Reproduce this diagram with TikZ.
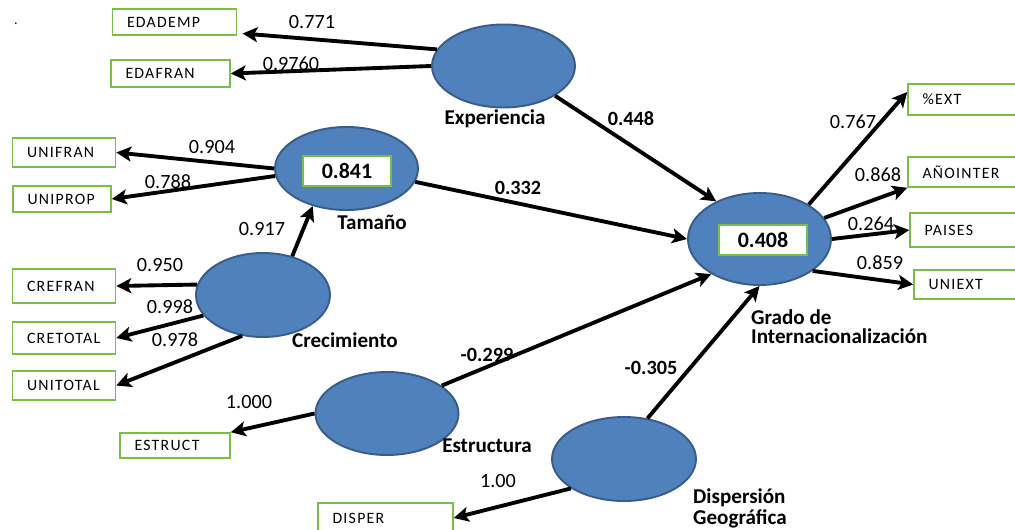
\documentclass[tikz,border=0pt]{standalone}
\usepackage{fontspec}
\setmainfont{Carlito}
\newfontfamily\indfam[LetterSpace=8]{Carlito}
\usetikzlibrary{arrows.meta,shapes.geometric}
\definecolor{latfill}{RGB}{79,129,189}
\definecolor{latline}{RGB}{56,93,138}
\definecolor{indline}{RGB}{122,190,72}
\newcommand{\wtfont}{\fontsize{11.5}{13}\selectfont}
\newcommand{\indfont}{\indfam\fontsize{9}{10}\selectfont}

\begin{document}
\begin{tikzpicture}[x=0.02cm,y=-0.02cm,
      latent/.style={ellipse,draw=latline,line width=1.1pt,fill=latfill,minimum width=2.86cm,minimum height=1.66cm,inner sep=0pt},
      ind/.style={draw=indline,line width=0.9pt,fill=white,font=\indfont,inner xsep=0.29cm,inner ysep=0pt,align=left},
      rsq/.style={draw=indline,line width=1pt,fill=white,font=\fontsize{12.5}{14}\selectfont\bfseries,minimum width=1.76cm,minimum height=0.6cm},
      arr/.style={line width=2.2pt,-{Stealth[length=8.5pt,width=8.5pt,inset=2pt]}},
      wt/.style={font=\wtfont},
      pc/.style={font=\wtfont\bfseries},
      lname/.style={font=\fontsize{12}{11}\selectfont\bfseries,align=left}]
    \clip (0,0) rectangle (1015,530);
    \node[font=\fontsize{8}{8}\selectfont] (dot) at (16,24) {.};
    % latent variables
    \node[latent] (exp) at (503.5,66) {};
    \node[latent] (tam) at (346.5,168.5) {};
    \node[latent,minimum width=2.68cm,minimum height=1.68cm] (crec) at (263,295) {};
    \node[latent] (estr) at (387,413.5) {};
    \node[latent,minimum width=2.88cm,minimum height=1.68cm] (disp) at (624,459) {};
    \node[latent,minimum height=1.84cm] (grado) at (759.5,239) {};
    \node[rsq] (r2tam) at (347,171) {0.841};
    \node[rsq] (r2grado) at (763,240) {0.408};
    \node[lname] (nexp) at (495,119) {Experiencia};
    \node[lname] (ntam) at (372,222) {Tamaño};
    \node[lname] (ncrec) at (345,340) {Crecimiento};
    \node[lname] (nestr) at (487,446) {Estructura};
    \node[lname,font=\fontsize{12}{12}\selectfont\bfseries,anchor=west] (ndisp) at (687,508) {Dispersión\\Geográfica};
    \node[lname,font=\fontsize{12}{10.8}\selectfont\bfseries,anchor=west] (ngrado) at (745,326.5) {Grado de\\Internacionalización};
    % indicators
    \node[ind,text width=1.90cm,minimum height=0.52cm] (edademp) at (174.5,22) {EDADEMP};
    \node[ind,text width=1.80cm,minimum height=0.54cm] (edafran) at (170.5,73.5) {EDAFRAN};
    \node[ind,text width=1.48cm,minimum height=0.58cm] (unifran) at (64,152.5) {UNIFRAN};
    \node[ind,text width=1.38cm,minimum height=0.52cm] (uniprop) at (62,199) {UNIPROP};
    \node[ind,text width=1.48cm,minimum height=0.68cm] (crefran) at (64,286) {CREFRAN};
    \node[ind,text width=1.48cm,minimum height=0.64cm] (cretotal) at (64,338) {CRETOTAL};
    \node[ind,text width=1.48cm,minimum height=0.58cm] (unitotal) at (64,385.5) {UNITOTAL};
    \node[ind,text width=1.62cm,minimum height=0.50cm] (estruct) at (175,445.5) {ESTRUCT};
    \node[ind,text width=2.12cm,minimum height=0.60cm] (disper) at (385.5,518) {DISPER};
    \node[ind,text width=1.82cm,minimum height=0.62cm] (pext) at (968,99.5) {\%EXT};
    \node[ind,text width=1.82cm,minimum height=0.60cm] (anoint) at (968,172) {AÑOINTER};
    \node[ind,text width=1.82cm,minimum height=0.68cm] (paises) at (970,230) {PAISES};
    \node[ind,text width=1.82cm,minimum height=0.58cm] (uniext) at (974,284.5) {UNIEXT};
    % loadings
    \draw[arr,shorten >=3pt] (exp.166) -- (edademp.-10) node[wt] at (312,22) {0.771};
    \draw[arr] (exp.180) -- (edafran.east) node[wt] at (291,64) {0.9760};
    \draw[arr] (tam.180) -- (unifran.east) node[wt] at (212,147) {0.904};
    \draw[arr] (tam.186) -- (uniprop.east) node[wt] at (168,182) {0.788};
    \draw[arr] (crec.53) -- (tam.228) node[wt] at (262,229) {0.917};
    \draw[arr] (crec.171) -- (crefran.east) node[wt] at (160,265) {0.950};
    \draw[arr] (crec.199) -- (cretotal.east) node[wt] at (170,307) {0.998};
    \draw[arr] (crec.243) -- (unitotal.east) node[wt] at (175,340) {0.978};
    \draw[arr] (estr.180) -- (estruct.north east) node[wt] at (249,402) {1.000};
    \draw[arr] (disp.209) -- (disper.east) node[wt] at (498,481) {1.00};
    \draw[arr] (grado.35) -- (pext.173) node[wt] at (853,122) {0.767};
    \draw[arr] (grado.18) -- (anoint.south west) node[wt] at (878,175) {0.868};
    \draw[arr] (grado.east) -- (paises.west) node[wt] at (871,224) {0.264};
    \draw[arr] (grado.-31) -- (uniext.west) node[wt] at (880,263) {0.859};
    % paths
    \draw[arr] (exp.-30) -- (grado.139) node[pc] at (631,119) {0.448};
    \draw[arr] (tam.-11) -- (grado.west) node[pc] at (518,188) {0.332};
    \draw[arr] (estr.27) -- (grado.216) node[pc] at (487,355) {-0.299};
    \draw[arr] (disp.60) -- (grado.south) node[pc] at (651,368) {-0.305};
  \end{tikzpicture}
\end{document}
